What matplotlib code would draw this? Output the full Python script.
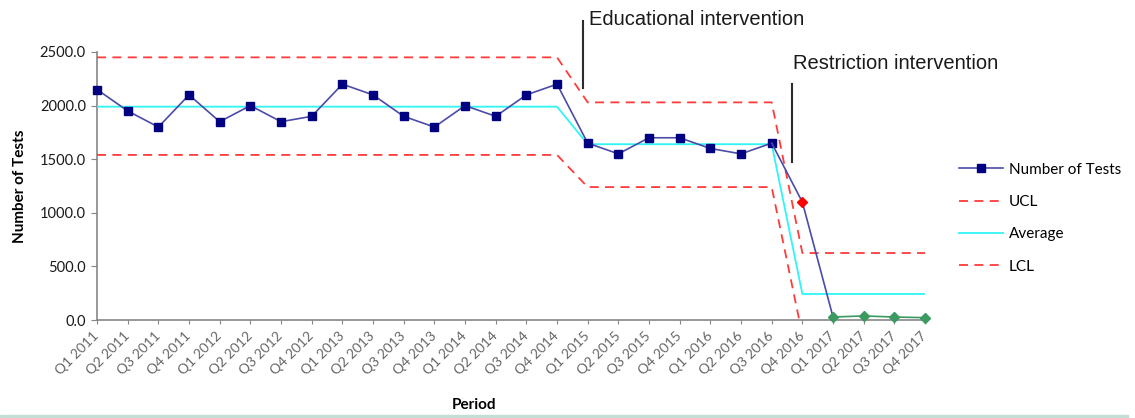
import matplotlib.pyplot as plt
import matplotlib.patches as mpatches

periods = ["Q1 2011", "Q2 2011", "Q3 2011", "Q4 2011",
           "Q1 2012", "Q2 2012", "Q3 2012", "Q4 2012",
           "Q1 2013", "Q2 2013", "Q3 2013", "Q4 2013",
           "Q1 2014", "Q2 2014", "Q3 2014", "Q4 2014",
           "Q1 2015", "Q2 2015", "Q3 2015", "Q4 2015",
           "Q1 2016", "Q2 2016", "Q3 2016", "Q4 2016",
           "Q1 2017", "Q2 2017", "Q3 2017", "Q4 2017"]
tests = [2150, 1950, 1800, 2100, 1850, 2000, 1850, 1900,
         2200, 2100, 1900, 1800, 2000, 1900, 2100, 2200,
         1650, 1550, 1700, 1700, 1600, 1550, 1650, 1100,
         28, 38, 28, 22]
ucl = [2450] * 16 + [2030] * 7 + [625] * 5
avg = [1990] * 16 + [1640] * 7 + [243] * 5
lcl = [1540] * 16 + [1240] * 7 + [-140] * 5
yticks = [0, 500, 1000, 1500, 2000, 2500]

# intervention markers: (x position, y top, y bottom, label x, label y)
edu = (15.85, 2790, 2165, 16.04, 2800)
restr = (22.66, 2200, 1475, 22.68, 2390)

x = list(range(len(periods)))

plt.rcParams['font.family'] = ['Lato', 'DejaVu Sans']

fig = plt.figure(figsize=(11.35, 4.18), dpi=100)
ax = fig.add_axes([0.0855, 0.2344, 0.7295, 0.6412])

navy = '#000080'
line_blue = '#4b4ba8'
red = '#ff3b3b'
green = '#3a9a60'

# series
ax.plot(x[:23], tests[:23], color=line_blue, lw=1.2, marker='s', ms=6,
        mfc=navy, mec=navy, label='Number of Tests', zorder=5, clip_on=False)
ax.plot(x[22:25], tests[22:25], color=line_blue, lw=1.2, zorder=5, clip_on=False)
ax.plot(x[23], tests[23], ls='none', marker='D', ms=5.5, color='red', zorder=6)
ax.plot(x[24:], tests[24:], color=green, lw=1.2, marker='D', ms=5.5,
        zorder=6, clip_on=False)
ax.plot(x, ucl, color=red, lw=1.3, dashes=(5, 3.5), label='UCL', zorder=3)
ax.plot(x, avg, color='#2ff5f5', lw=1.3, label='Average', zorder=3)
ax.plot(x, lcl, color=red, lw=1.3, dashes=(5, 3.5), label='LCL', zorder=3)

ax.set_xlim(0, len(periods) - 1)
ax.set_ylim(0, 2500)
ax.set_yticks(yticks)
ax.set_yticklabels([f"{v:.1f}" for v in yticks], fontsize=10.5, color='#1a1a1a')
ax.set_xticks(x)
ax.set_xticklabels(periods, rotation=45, ha='right', va='center',
                   rotation_mode='anchor', fontsize=10, color='#666666')
ax.tick_params(axis='x', length=3, color='#868686', pad=7)
ax.tick_params(axis='y', length=4, color='#868686', pad=4)
for s in ['top', 'right']:
    ax.spines[s].set_visible(False)
for s in ['left', 'bottom']:
    ax.spines[s].set_color('#868686')
    ax.spines[s].set_linewidth(1.2)

ax.set_ylabel('Number of Tests', fontsize=11, fontweight='bold')
ax.yaxis.set_label_coords(-0.085, 0.5)
ax.set_xlabel('Period', fontsize=11, fontweight='bold')
ax.xaxis.set_label_coords(0.455, -0.292)

# interventions
for xi, y0, y1, tx, ty, txt in [(*edu, 'Educational intervention'),
                                (*restr, 'Restriction intervention')]:
    ax.plot([xi, xi], [y0, y1], color='#2b2b2b', lw=1.5, clip_on=False)
    ax.text(tx, ty, txt, fontsize=14.5, family='Liberation Sans',
            va='center', ha='left', color='#1a1a1a')

handles, labels = ax.get_legend_handles_labels()
fig.legend(handles, labels, loc='upper left', bbox_to_anchor=(0.845, 0.611),
           bbox_transform=fig.transFigure, frameon=False, fontsize=11,
           handlelength=2.9, handletextpad=0.35, labelspacing=1.2,
           borderpad=0, borderaxespad=0)

fig.patches.append(mpatches.Rectangle((0, 0), 0.9938, 0.0075,
                                      transform=fig.transFigure,
                                      color='#c5ded5', zorder=0))

fig.savefig('out.png', dpi=100)
